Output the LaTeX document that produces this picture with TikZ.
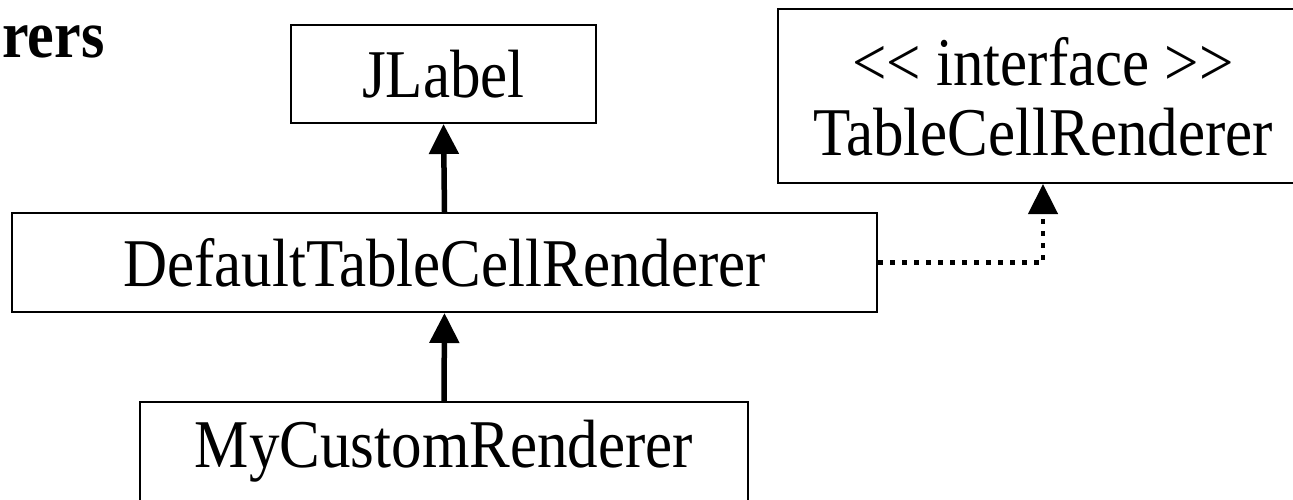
\documentclass[tikz,border=0pt]{standalone}
\usepackage{fontspec}
\setmainfont{Liberation Serif}
\usetikzlibrary{arrows.meta}
\usetikzlibrary{positioning}

\newcommand{\tallText}[1]{\scalebox{1}[1.12]{#1}}

\tikzset{
	classbox/.style={draw, line width=2pt, inner sep=0pt, font=\fontsize{61}{69}\selectfont, align=center},
	inherit/.style={line width=5.5pt, -{Triangle[length=30pt,width=29pt]}},
	realize/.style={line width=4.5pt, dash pattern=on 4.5pt off 7.5pt, -{Triangle[length=30pt,width=29pt]}}
}

\begin{document}
\begin{tikzpicture}[x=1pt,y=-1pt]
		\useasboundingbox (0,0) rectangle (1293,499);
		\node[anchor=base west, inner sep=0pt, font=\fontsize{60}{66}\selectfont\bfseries] (title) at (2,57) {\tallText{rers}};
		\node[classbox, minimum width=305pt, minimum height=98pt] (jlabel) at (443.5,74) {\tallText{JLabel}};
		\node[classbox, minimum width=530pt, minimum height=174pt, text depth=0pt] (iface) at (1043,96) {\tallText{{<}{<} interface {>}{>}}\\[1pt]\tallText{TableCellRenderer}};
		\node[classbox, minimum width=865pt, minimum height=99pt] (dtcr) at (444.5,262.5) {\tallText{DefaultTableCellRenderer}};
		\node[classbox, minimum width=608pt, minimum height=99pt] (mycr) at (444,451.5) {\tallText{MyCustomRenderer}};
		\draw[inherit] (dtcr.north) -- (jlabel.south);
		\draw[inherit] (mycr.north) -- (dtcr.south);
		\draw[realize] (dtcr.east) -| (iface.south);
	\end{tikzpicture}
\end{document}
